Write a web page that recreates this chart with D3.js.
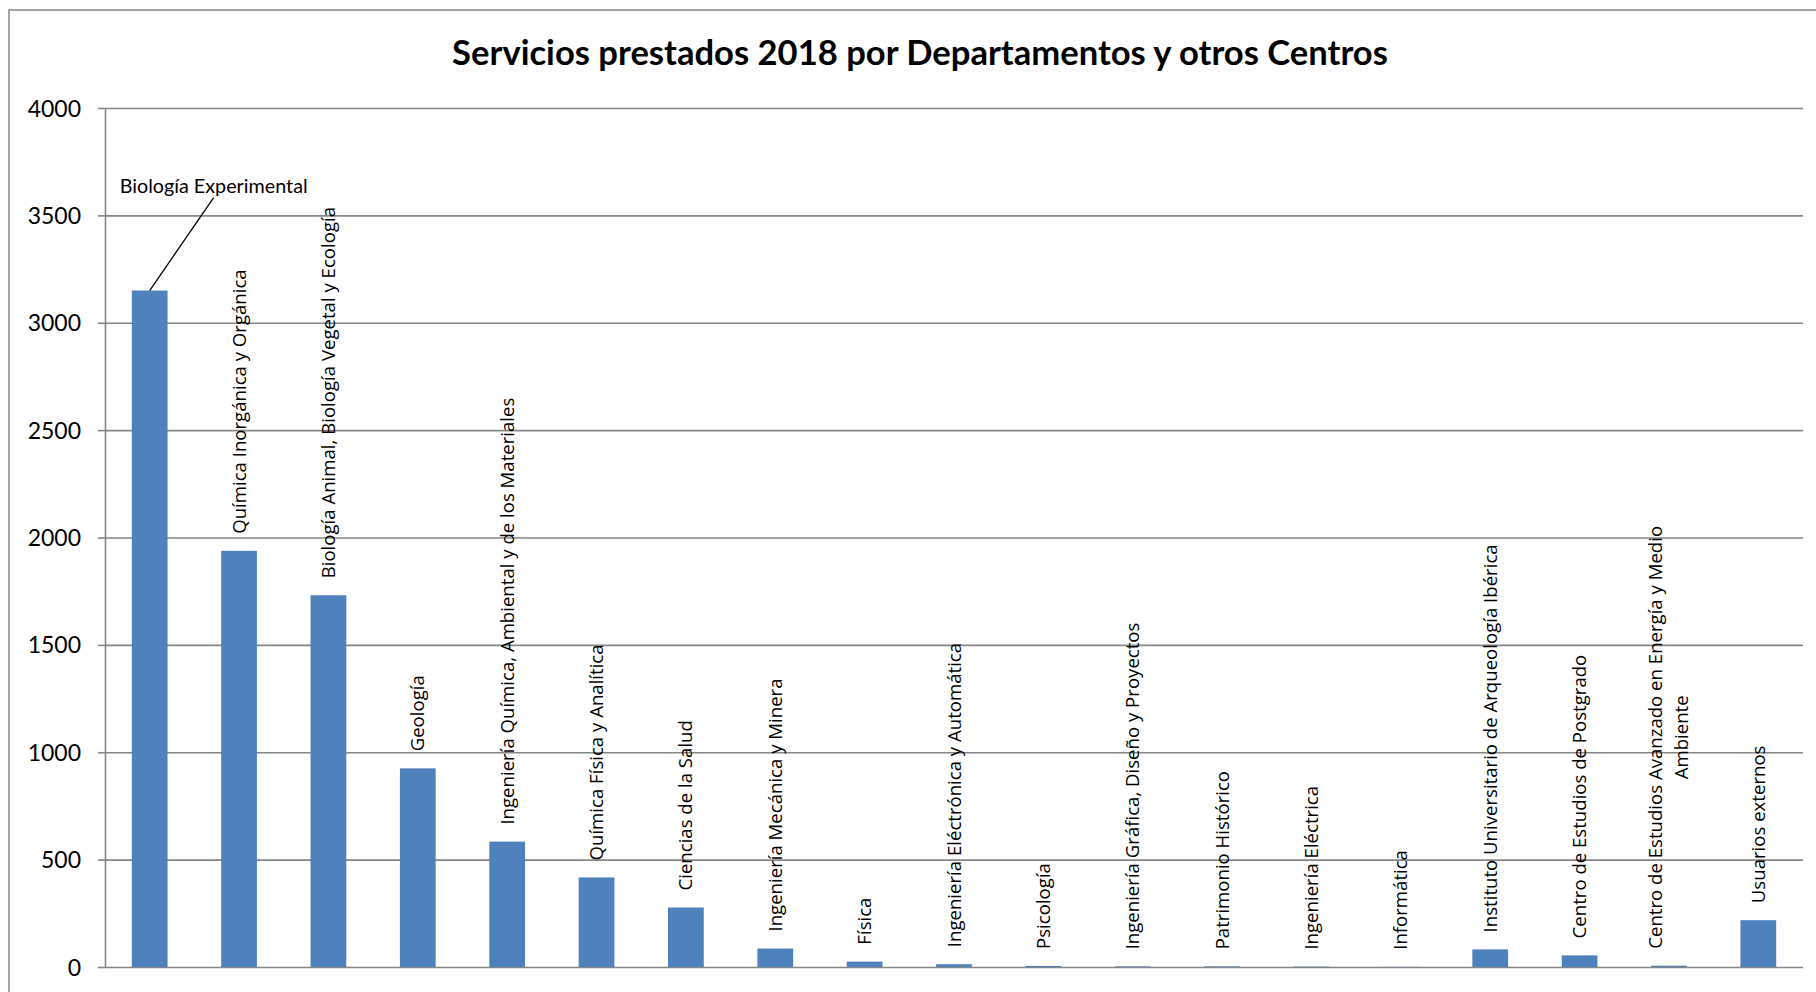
<!DOCTYPE html>
<html>
<head>
<meta charset="utf-8">
<script src="https://cdn.jsdelivr.net/npm/d3@7"></script>
<style>
  html, body { margin: 0; padding: 0; background: #ffffff; }
  svg { display: block; }
</style>
</head>
<body>
<svg id="chart" width="1816" height="992"></svg>
<script>
// ---- DATA ----
const title = "Servicios prestados 2018 por Departamentos y otros Centros";
const categories = [
  "Biología Experimental",
  "Química Inorgánica y Orgánica",
  "Biología Animal, Biología Vegetal y Ecología",
  "Geología",
  "Ingeniería Química, Ambiental y de los Materiales",
  "Química Física y Analítica",
  "Ciencias de la Salud",
  "Ingeniería Mecánica y Minera",
  "Física",
  "Ingeniería Eléctrónica y Automática",
  "Psicología",
  "Ingeniería Gráfica, Diseño y Proyectos",
  "Patrimonio Histórico",
  "Ingeniería Eléctrica",
  "Informática",
  "Instituto Universitario de Arqueología Ibérica",
  "Centro de Estudios de Postgrado",
  "Centro de Estudios Avanzado en Energía y Medio|Ambiente",
  "Usuarios externos"
];
const values = [3150, 1938, 1731, 925, 584, 417, 277, 86, 25, 13, 5, 3, 3, 2, 1, 82, 54, 6, 218];
const yTicks = [0, 500, 1000, 1500, 2000, 2500, 3000, 3500, 4000];
const yMax = 4000;

// ---- LAYOUT ----
const svg = d3.select("#chart");
const W = 1816, H = 992;
const plot = { left: 105, right: 1803, top: 108, bottom: 967 };
const gridColor = "#868686";
const barColor = "#4F81BD";
const calibriLike = "Lato, 'Liberation Sans', sans-serif";
const segoeLike = "'Open Sans', 'DejaVu Sans', sans-serif";

// outer chart border (extends beyond the captured frame)
svg.append("rect")
  .attr("x", 9).attr("y", 10)
  .attr("width", W + 20).attr("height", H + 20)
  .attr("fill", "none").attr("stroke", gridColor).attr("stroke-width", 1.5);

const x = d3.scaleBand()
  .domain(categories)
  .range([plot.left, plot.right])
  .paddingInner(0.6)
  .paddingOuter(0.3);

const y = d3.scaleLinear().domain([0, yMax]).range([plot.bottom, plot.top]);

// title
const t = svg.append("text")
  .attr("x", 920).attr("y", 65)
  .attr("text-anchor", "middle")
  .attr("font-family", calibriLike)
  .attr("font-weight", "bold")
  .attr("font-size", 32)
  .attr("fill", "#000")
  .text(title);
const tw = t.node().getComputedTextLength();
t.attr("font-size", 32 * 936 / tw);

// y axis with gridlines
const yAxis = d3.axisLeft(y)
  .tickValues(yTicks)
  .tickSize(-(plot.right - plot.left))
  .tickSizeOuter(0)
  .tickPadding(24)
  .tickFormat(d3.format("d"));

const gy = svg.append("g")
  .attr("transform", `translate(${plot.left},0)`)
  .call(yAxis);
gy.select(".domain").attr("stroke", gridColor).attr("stroke-width", 1.6);
gy.selectAll(".tick line").attr("stroke", gridColor).attr("stroke-width", 1.6);
gy.selectAll(".tick").append("line")
  .attr("x1", -7).attr("x2", 0)
  .attr("stroke", gridColor).attr("stroke-width", 1.6);
gy.selectAll(".tick text")
  .attr("font-family", calibriLike)
  .attr("font-size", 23)
  .attr("fill", "#000")
  .attr("dy", "0.35em");

// bars
svg.append("g").selectAll("rect")
  .data(categories)
  .join("rect")
  .attr("x", d => x(d))
  .attr("width", x.bandwidth())
  .attr("y", (d, i) => y(values[i]))
  .attr("height", (d, i) => y(0) - y(values[i]))
  .attr("fill", barColor);

// rotated category labels above bars (all but first)
const labelGap = 17;
const lineStep = 26;
const lg = svg.append("g")
  .attr("font-family", segoeLike)
  .attr("font-size", 18.6)
  .attr("fill", "#000");

categories.forEach((c, i) => {
  if (i === 0) return;
  const cx = x(c) + x.bandwidth() / 2;
  const cy = y(values[i]) - labelGap;
  const lines = c.split("|");
  const g = lg.append("g").attr("transform", `translate(${cx},${cy}) rotate(-90)`);
  if (lines.length === 1) {
    g.append("text")
      .attr("x", 0).attr("y", 0)
      .attr("dy", "0.35em")
      .attr("text-anchor", "start")
      .text(lines[0]);
  } else {
    const tmp = g.append("text").text(lines[0]);
    const w0 = tmp.node().getComputedTextLength();
    tmp.remove();
    lines.forEach((ln, k) => {
      g.append("text")
        .attr("x", w0 / 2)
        .attr("y", (k - (lines.length - 1) / 2) * lineStep)
        .attr("dy", "0.35em")
        .attr("text-anchor", "middle")
        .text(ln);
    });
  }
});

// first category: horizontal callout label with leader line
const c0 = categories[0];
const bx = x(c0) + x.bandwidth() / 2;
const by = y(values[0]);
const ann = svg.append("text")
  .attr("x", bx - 30).attr("y", by - 98)
  .attr("font-family", calibriLike)
  .attr("font-size", 19)
  .attr("fill", "#000")
  .text(c0);
const aw = ann.node().getComputedTextLength();
ann.attr("font-size", 19 * 188 / aw);
svg.append("line")
  .attr("x1", bx + 64).attr("y1", by - 93)
  .attr("x2", bx).attr("y2", by)
  .attr("stroke", "#000").attr("stroke-width", 1.3);
</script>
</body>
</html>
